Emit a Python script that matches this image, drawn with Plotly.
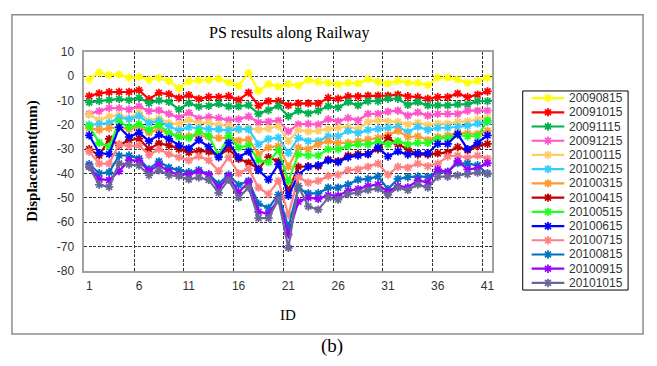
import plotly.graph_objects as go

W, H = 657, 366

ids = list(range(1, 42))
x_ticks = [1, 6, 11, 16, 21, 26, 31, 36, 41]
y_ticks = [10, 0, -10, -20, -30, -40, -50, -60, -70, -80]

names = ["20090815", "20091015", "20091115", "20091215", "20100115", "20100215",
         "20100315", "20100415", "20100515", "20100615", "20100715", "20100815",
         "20100915", "20101015"]
colors = ["#FFFF00", "#FF0000", "#00B050", "#FF55CC", "#FFCC66", "#33CCFF",
          "#FF9933", "#C00000", "#22FF22", "#0000FF", "#FF8080", "#0070C0",
          "#9900FF", "#666699"]

s20090815 = [-1.3, 1.5, 0.4, 0.7, -0.7, -0.3, -1.6, -0.8, -2.1, -5, -2.1, -1.8, -1.7, -1.1, -2.6, -4,
             1.3, -6.1, -3.3, -4.3, -3.3, -3.8, -1.6, -2.4, -2.8, -3.4, -2.8, -3, -1.3, -2.4, -3, -2, -2.6,
             -2.8, -3.7, -0.7, -0.7, -1.4, -2.8, -2, -0.7]
s20091015 = [-8.2, -7.1, -6.6, -6.5, -6.5, -5.8, -9.5, -6.9, -7.4, -9, -7.8, -9.4, -8.5, -8.6, -8.2, -9.8,
             -6.8, -12.1, -10.3, -10.3, -12, -11.2, -11.2, -11.3, -8.9, -9.3, -8.3, -8.3, -8, -8, -8, -7.6, -8.3,
             -8.6, -9.3, -8.6, -8.6, -7.2, -8.6, -7.6, -6.3]
s20091115 = [-10.8, -10.2, -9.8, -9.4, -9.8, -8.9, -11.1, -10, -10.6, -13.7, -11.1, -12.5, -12.2, -11.4, -12.4, -12.4,
             -11.9, -15.5, -14, -12.2, -16.5, -14.2, -15.3, -14.2, -12.3, -12.9, -10.7, -12, -10.3, -10.3, -9.3, -9.3, -11.8,
             -10.7, -12, -12, -12, -11.6, -11.6, -10.3, -10.3]
s20091215 = [-15.5, -14.4, -13.1, -13.2, -13.7, -12.4, -14.4, -14.1, -15.5, -17, -15.1, -17.4, -16.8, -17.2, -18.1, -17.7,
             -16.6, -19, -18.7, -18.3, -22.7, -19.8, -19.6, -19.9, -17.7, -18.6, -17.2, -18.2, -15.5, -15.5, -14.6, -14.2, -16.2,
             -14.9, -16.2, -15.5, -15.5, -15.5, -14.2, -14.2, -14.2]
s20100115 = [-15.8, -18, -16.6, -16, -17.3, -15, -18.4, -17.3, -19.3, -19.7, -18, -19.3, -19, -20.1, -20.3, -22,
             -21.3, -22, -21.5, -20.5, -26.7, -22.1, -22.8, -22.5, -21.7, -21.2, -20.8, -21.7, -18.8, -18.2, -18.6, -18.8, -19.8,
             -19.1, -20.1, -19.5, -19.5, -18.8, -18.6, -17.8, -17.2]
s20100215 = [-20, -19.7, -19.3, -17, -17.7, -16.4, -19.3, -18.4, -20.6, -22.3, -21, -21.4, -21.7, -21.9, -22.3, -21.7,
             -21.9, -28, -25.8, -25.2, -31.6, -25.4, -26.7, -26.7, -24.7, -24.7, -22.5, -23.4, -22.1, -21.7, -21.2, -20.8, -22.9,
             -20.8, -22.1, -21.2, -21.2, -20.8, -20.4, -19.5, -18.8]
s20100315 = [-21.4, -22.1, -21.4, -21, -21.8, -20.8, -23.2, -21.8, -23.4, -24.5, -24.7, -24.5, -25, -25.4, -25.4, -26.5,
             -26, -32, -29.3, -28.7, -37.2, -29.3, -30, -28, -26.7, -27.4, -27.4, -26.7, -26, -25.4, -24.1, -22.5, -25,
             -24.7, -26.2, -25, -24.4, -23.3, -23.5, -23.7, -22.5]
s20100415 = [-30, -32.6, -25.8, -28.4, -26.3, -25.7, -30, -27.6, -28.4, -30, -31.3, -30.7, -31, -32.6, -30, -34,
             -35.5, -38, -33.3, -35, -47, -37.2, -37, -37, -34.3, -34.9, -32.6, -32, -32, -30, -25.4, -28, -30,
             -32.2, -32.2, -31.7, -31.3, -29.1, -30.4, -28.7, -27.8]
s20100515 = [-20.5, -27.4, -29, -18.8, -21, -19.7, -22.1, -20.1, -23.4, -25, -25.4, -22.8, -24.5, -32.6, -24.5, -29.3,
             -28.5, -34.6, -35.3, -30.4, -43.2, -32, -32.6, -32.6, -30, -30, -28.7, -28, -28, -27, -28, -26.7, -28,
             -27.4, -27.4, -25.7, -25.4, -24.1, -24.7, -24.7, -18.3]
s20100615 = [-24.3, -31.6, -32, -21, -25, -23.2, -26.7, -24.1, -25.8, -28.4, -29.7, -26.3, -29, -33.3, -27.4, -33.3,
             -31, -38.6, -42.5, -36.2, -49.1, -40.5, -37.2, -36.6, -34.6, -35.3, -33.3, -32.6, -32, -29.3, -33, -30.9, -32.2,
             -31.7, -31.7, -27.8, -27.8, -23.8, -30, -27.4, -24.3]
s20100715 = [-31, -35.9, -35.9, -28, -28.7, -28.4, -32.4, -30, -32, -33.3, -34.6, -32.9, -34.6, -39, -33.3, -39.9,
             -38, -45.8, -48.4, -43, -57, -41.5, -43.7, -43, -41, -40.5, -38.6, -38.3, -37.2, -35.9, -40.5, -37.2, -37.6,
             -35.9, -37, -35.9, -33, -32.6, -33.6, -32.6, -33.9]
s20100815 = [-36.2, -39.9, -39.5, -32.6, -32.6, -33.9, -38.2, -35, -37.6, -38.6, -39.5, -38.6, -40.3, -44.2, -40.5, -44.7,
             -43, -52.4, -54.1, -48.7, -62, -46.2, -48.1, -48.1, -45.8, -45.8, -44.5, -42.5, -42.2, -41.2, -46.4, -42.2, -41.5,
             -41.2, -41.4, -39.2, -39.2, -35.7, -35.9, -36.6, -40.1]
s20100915 = [-37.1, -42.3, -42.7, -39, -34.5, -34.8, -39, -36.5, -39.2, -40.4, -40.4, -39.2, -40.5, -46, -41.1, -47.8,
             -43.5, -55.7, -56.5, -50.6, -65, -51.5, -49.9, -50.4, -48.9, -49.1, -47.1, -46.4, -45.1, -44.5, -47.5, -45.1, -45.7,
             -42.8, -43.6, -38.3, -39.6, -34.9, -38.3, -37.9, -35.7]
s20101015 = [-37.3, -44.6, -45.5, -35.8, -36.3, -36.7, -40.7, -38.7, -40.7, -41.1, -42.4, -41.6, -42.6, -47.9, -42.6, -49.9,
             -45.8, -58.3, -58.3, -50.7, -70.5, -45.1, -53.5, -54.8, -50, -50.7, -48.4, -47.8, -46.7, -46.2, -48.8, -45.8, -46.8,
             -44.5, -45.8, -41.3, -41.3, -40.7, -40.3, -39.6, -39.9]

series = [s20090815, s20091015, s20091115, s20091215, s20100115, s20100215, s20100315,
          s20100415, s20100515, s20100615, s20100715, s20100815, s20100915, s20101015]

# pixel geometry of the layout (paper == whole figure, margins 0)
PL, PR, PT, PB = 84.5, 494.0, 46.5, 274.5
LG_L, LG_R, LG_T, LG_B = 524.3, 630.0, 87.3, 294.3

def px(x):
    return x / W

def py(y):
    return 1 - y / H

grid = dict(color="#333333", dash="3px,1.5px", width=1)

fig = go.Figure()
for name, col, vals in zip(names, colors, series):
    fig.add_trace(go.Scatter(
        x=ids, y=vals, name=name, mode="lines+markers",
        line=dict(color=col, width=2.2),
        marker=dict(symbol="asterisk", size=7, color=col, line=dict(color=col, width=1.7)),
        xaxis="x", yaxis="y", showlegend=False,
    ))

# custom legend (compact entries, drawn on a pixel-scaled helper axis)
step = (LG_B - LG_T) / len(names)
for i, (name, col) in enumerate(zip(names, colors)):
    yc = LG_T + step * (i + 0.5)
    fig.add_trace(go.Scatter(
        x=[533.3, 566.0], y=[yc, yc], mode="lines",
        line=dict(color=col, width=2.2),
        xaxis="x2", yaxis="y2", showlegend=False, hoverinfo="skip",
    ))
    fig.add_trace(go.Scatter(
        x=[549.6], y=[yc], mode="markers",
        marker=dict(symbol="asterisk", size=7, color=col, line=dict(color=col, width=1.7)),
        xaxis="x2", yaxis="y2", showlegend=False, hoverinfo="skip",
    ))
    fig.add_annotation(x=569, y=yc, xref="x2", yref="y2", text=name, showarrow=False,
                       xanchor="left", yanchor="middle",
                       font=dict(family="Liberation Sans", size=12, color="#333333"))

fig.update_layout(
    width=W, height=H,
    margin=dict(l=0, r=0, t=0, b=0),
    paper_bgcolor="white", plot_bgcolor="white",
    showlegend=False,
    xaxis=dict(
        domain=[px(PL), px(PR)], range=[0.5, 41.5],
        tickmode="array", tickvals=x_ticks, ticktext=[str(v) for v in x_ticks],
        showgrid=False, zeroline=False, ticks="", ticklabelstandoff=3,
        showline=True, linecolor="#A0A0A0", linewidth=1.5, mirror=True,
        tickfont=dict(family="Liberation Sans", size=12, color="#333333"),
        minor=dict(tick0=0.5, dtick=5, showgrid=True, gridcolor=grid["color"],
                   griddash=grid["dash"], gridwidth=grid["width"], ticks=""),
        anchor="y",
    ),
    yaxis=dict(
        domain=[py(PB), py(PT)], range=[-80, 10],
        tickmode="array", tickvals=y_ticks, ticktext=[str(v) for v in y_ticks],
        showgrid=True, gridcolor=grid["color"], griddash=grid["dash"], gridwidth=grid["width"],
        zeroline=False, ticks="", ticklabelstandoff=6,
        showline=True, linecolor="#A0A0A0", linewidth=1.5, mirror=True,
        tickfont=dict(family="Liberation Sans", size=12, color="#333333"),
        anchor="x",
    ),
    xaxis2=dict(domain=[px(LG_L), px(LG_R)], range=[LG_L, LG_R], visible=False,
                fixedrange=True, anchor="y2"),
    yaxis2=dict(domain=[py(LG_B), py(LG_T)], range=[LG_B, LG_T], visible=False,
                fixedrange=True, anchor="x2"),
)

# chart-area border and legend box
fig.add_shape(type="rect", xref="paper", yref="paper",
              x0=px(12), x1=px(645), y0=py(340), y1=py(8),
              line=dict(color="#8C8C8C", width=1.5), layer="below")
fig.add_shape(type="rect", xref="paper", yref="paper",
              x0=px(LG_L), x1=px(LG_R), y0=py(LG_B), y1=py(LG_T),
              line=dict(color="#000000", width=1))

serif = "Liberation Serif"
def label(x, y, text, size, angle=0):
    fig.add_annotation(x=px(x), y=py(y), xref="paper", yref="paper", text=text,
                       showarrow=False, xanchor="center", yanchor="middle", textangle=angle,
                       font=dict(family=serif, size=size, color="#000000"))

label(290, 27, "PS results along Railway", 16)
label(33, 160, "<b>Displacement(mm)</b>", 15, -90)
label(289, 320, "ID", 15)
label(333, 353, "(b)", 19)

fig.write_html("out.html")
